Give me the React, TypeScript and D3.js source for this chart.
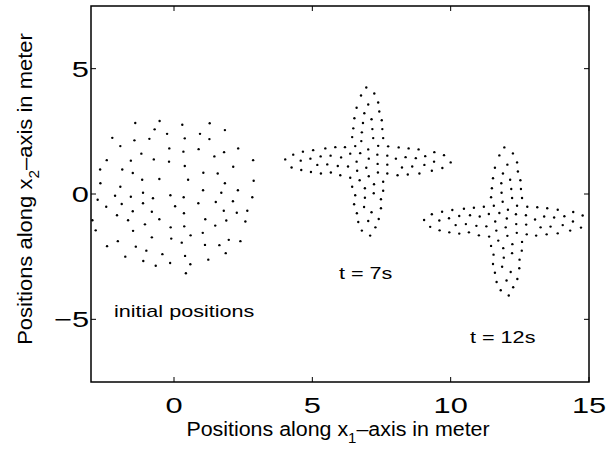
import React, { useEffect, useRef } from "react";
import * as d3 from "d3";

// particle positions, [x1, x2] in meter
const initialPositions: [number, number][] = [
  [-1.40, 2.83], [-0.52, 2.91], [-0.70, 2.58], [-0.25, 2.40], [-2.23, 2.24], [-1.43, 2.14], [-0.89, 2.20],
  [-1.94, 1.91], [-0.17, 1.82], [-1.18, 1.61], [-2.43, 1.35], [-1.56, 1.33], [-0.73, 1.38], [-0.18, 1.29],
  [-2.67, 0.98], [-1.87, 0.98], [-1.49, 0.84], [-1.15, 0.57], [-0.53, 0.60], [-2.66, 0.43], [-1.94, 0.29],
  [-1.12, 0.05], [0.30, 2.76], [1.29, 2.82], [0.94, 2.40], [1.84, 2.55], [0.39, 2.22], [1.28, 2.19],
  [0.34, 1.69], [0.89, 1.79], [1.46, 1.50], [1.81, 1.67], [2.32, 1.82], [2.86, 1.35], [0.39, 1.12],
  [1.06, 0.85], [1.58, 0.82], [2.14, 1.09], [0.51, 0.57], [1.84, 0.43], [2.88, 0.53], [1.05, 0.15],
  [1.71, 0.05], [2.31, 0.15], [-2.76, -0.23], [-2.13, -0.07], [-1.56, -0.11], [-0.76, -0.17], [-0.13, -0.05],
  [-2.45, -0.51], [-1.89, -0.40], [-1.12, -0.37], [0.04, -0.49], [-2.06, -0.85], [-1.49, -0.69], [-0.80, -0.71],
  [-2.95, -1.05], [-1.66, -1.05], [-1.05, -1.21], [-0.53, -1.01], [-0.12, -1.33], [-2.83, -1.45], [-1.48, -1.47],
  [-0.80, -1.73], [-0.10, -1.78], [-2.03, -1.88], [-2.42, -2.08], [-1.38, -2.10], [-1.00, -2.26], [-0.42, -2.40],
  [-1.76, -2.50], [-1.11, -2.67], [-0.66, -2.86], [-0.14, -2.75], [0.35, -0.13], [2.83, -0.13], [0.88, -0.37],
  [1.51, -0.32], [2.13, -0.29], [0.36, -0.77], [1.80, -0.67], [2.27, -0.75], [2.65, -0.67], [1.13, -1.01],
  [1.89, -1.06], [2.58, -1.10], [0.37, -1.29], [1.49, -1.26], [0.60, -1.65], [1.04, -1.55], [0.28, -1.94],
  [1.12, -2.03], [1.64, -2.04], [1.98, -1.83], [2.40, -1.88], [1.87, -2.36], [0.40, -2.47], [1.24, -2.62],
  [0.59, -2.80], [0.43, -3.16],
];

const positionsAt7s: [number, number][] = [
  [6.95, 4.25], [7.24, 4.01], [6.76, 3.93], [7.02, 3.57], [7.38, 3.65], [6.60, 3.44], [6.88, 3.22], [7.42, 3.29],
  [6.52, 3.02], [7.14, 2.98], [6.83, 2.83], [7.51, 2.94], [6.48, 2.62], [7.17, 2.59], [6.79, 2.46], [7.53, 2.59],
  [6.44, 2.27], [7.20, 2.23], [6.77, 2.11], [7.56, 2.23], [6.55, 1.91], [7.02, 1.78], [7.38, 1.92],
  [6.18, 1.87], [5.83, 1.87], [5.47, 1.82], [5.03, 1.75], [4.66, 1.69], [4.31, 1.57], [7.74, 1.90], [8.12, 1.86],
  [8.48, 1.82], [8.84, 1.78], [9.41, 1.67], [9.76, 1.55],
  [4.02, 1.38], [4.93, 1.41], [5.30, 1.50], [5.66, 1.53], [6.04, 1.46], [6.37, 1.61], [6.73, 1.63], [7.04, 1.41],
  [7.35, 1.57], [7.71, 1.53], [8.02, 1.41], [8.37, 1.47], [8.74, 1.43], [9.08, 1.51],
  [4.58, 1.33], [6.60, 1.29], [9.40, 1.29], [10.00, 1.26],
  [4.25, 1.06], [4.60, 0.96], [4.95, 0.88], [5.18, 1.16], [5.31, 0.82], [5.54, 1.18], [5.67, 0.86], [5.92, 1.12],
  [6.01, 0.75], [6.29, 1.10], [6.37, 0.65], [6.62, 0.93], [6.71, 0.55], [6.95, 1.05], [7.04, 0.71], [7.36, 1.20],
  [7.37, 0.86], [7.71, 1.17], [7.71, 0.82], [8.08, 0.75], [8.24, 1.06], [8.45, 0.78], [8.61, 1.10], [8.87, 0.82],
  [9.05, 1.16], [9.32, 0.93], [9.70, 1.04],
  [6.44, 0.29], [6.90, 0.23], [7.23, 0.39], [7.56, 0.49], [6.55, -0.05], [7.22, 0.03], [7.56, 0.13], [6.90, -0.15],
  [7.48, -0.21], [6.51, -0.41], [6.87, -0.52], [7.48, -0.57], [6.61, -0.77], [7.14, -0.73], [7.40, -1.00],
  [6.66, -1.12], [7.02, -1.08], [7.28, -1.33], [6.79, -1.46], [7.09, -1.66],
];

const positionsAt12s: [number, number][] = [
  [11.94, 1.86], [12.25, 1.62], [11.76, 1.54], [12.05, 1.17], [12.40, 1.26], [11.60, 1.05], [11.89, 0.82],
  [12.43, 0.90], [11.53, 0.63], [12.15, 0.57], [12.52, 0.55], [11.83, 0.43], [11.49, 0.23], [12.19, 0.20],
  [12.54, 0.20], [11.84, 0.05], [11.46, -0.13], [12.22, -0.16], [12.58, -0.16], [11.88, -0.31],
  [11.56, -0.47], [11.20, -0.51], [10.84, -0.55], [10.48, -0.59], [10.06, -0.64], [12.40, -0.47], [12.77, -0.51],
  [13.13, -0.53], [13.49, -0.57], [13.87, -0.63], [14.43, -0.72], [12.07, -0.63],
  [9.69, -0.71], [9.32, -0.81], [11.38, -0.80], [11.76, -0.76], [12.36, -0.81], [12.72, -0.85],
  [9.04, -1.04], [9.59, -1.06], [9.94, -0.97], [10.31, -0.88], [10.70, -0.85], [11.05, -0.90], [12.03, -0.98],
  [13.05, -1.02], [13.38, -0.90], [13.74, -0.94], [14.11, -0.89], [14.77, -0.86],
  [9.26, -1.31], [9.60, -1.45], [9.95, -1.53], [10.18, -1.24], [10.31, -1.58], [10.55, -1.20], [10.66, -1.53],
  [10.93, -1.27], [11.02, -1.65], [11.29, -1.29], [11.39, -1.70], [11.61, -1.10], [11.65, -1.46], [11.72, -1.86],
  [11.99, -1.33], [12.05, -1.67], [12.37, -1.20], [12.39, -1.55], [12.73, -1.22], [12.75, -1.61], [13.09, -1.66],
  [13.25, -1.33], [13.47, -1.61], [13.61, -1.30], [13.87, -1.57], [14.05, -1.24], [14.32, -1.46], [14.42, -1.10],
  [14.71, -1.34],
  [11.46, -2.07], [11.90, -2.16], [12.23, -2.00], [12.58, -1.91], [11.55, -2.42], [11.92, -2.54], [12.22, -2.36],
  [12.57, -2.26], [11.53, -2.79], [11.86, -2.90], [12.49, -2.62], [11.60, -3.14], [12.17, -3.11], [12.48, -2.96],
  [11.66, -3.51], [12.02, -3.45], [12.41, -3.39], [11.81, -3.84], [12.26, -3.72], [12.10, -4.05],
];

const xTicks = [0, 5, 10, 15];
const yTicks = [-5, 0, 5];

const annotations: { text: string; x: number; y: number }[] = [
  { text: "initial positions", x: -2.17, y: -4.9 },
  { text: "t = 7s", x: 5.96, y: -3.39 },
  { text: "t = 12s", x: 10.7, y: -5.94 },
];

const W = 615;
const H = 449;
const margin = { top: 6, right: 26, bottom: 67, left: 91 };
const font = "'Liberation Sans', Arial, Helvetica, sans-serif";

export default function App() {
  const ref = useRef<SVGSVGElement>(null);

  useEffect(() => {
    const svg = d3.select(ref.current);
    svg.selectAll("*").remove();

    const iw = W - margin.left - margin.right;
    const ih = H - margin.top - margin.bottom;

    const x = d3.scaleLinear().domain([-3, 15]).range([0, iw]);
    const y = d3.scaleLinear().domain([-7.5, 7.5]).range([ih, 0]);

    svg.append("rect").attr("width", W).attr("height", H).attr("fill", "#fff");

    const g = svg.append("g").attr("transform", `translate(${margin.left},${margin.top})`);

    // inward ticks on all four sides, like matlab's box
    const tl = 5;
    g.selectAll(".xt")
      .data(xTicks)
      .enter()
      .append("path")
      .attr("d", (d) => `M${x(d)},${ih}v${-tl}M${x(d)},0v${tl}`)
      .attr("stroke", "#000")
      .attr("stroke-width", 1);
    g.selectAll(".yt")
      .data(yTicks)
      .enter()
      .append("path")
      .attr("d", (d) => `M0,${y(d)}h${tl}M${iw},${y(d)}h${-tl}`)
      .attr("stroke", "#000")
      .attr("stroke-width", 1);

    g.append("rect")
      .attr("width", iw)
      .attr("height", ih)
      .attr("fill", "none")
      .attr("stroke", "#000")
      .attr("stroke-width", 1.5);

    // the original's glyphs are stretched sideways, so scale x
    g.selectAll(".xl")
      .data(xTicks)
      .enter()
      .append("text")
      .attr("transform", (d) => `translate(${x(d)},${ih + 31}) scale(1.4,1)`)
      .attr("text-anchor", "middle")
      .attr("font-family", font)
      .attr("font-size", 22)
      .text((d) => d);

    g.selectAll(".yl")
      .data(yTicks)
      .enter()
      .append("text")
      .attr("transform", (d) => `translate(-2,${y(d) + 8}) scale(1.4,1)`)
      .attr("text-anchor", "end")
      .attr("font-family", font)
      .attr("font-size", 22)
      .text((d) => (d < 0 ? "\u2212" + Math.abs(d) : d));

    const groups = [initialPositions, positionsAt7s, positionsAt12s];
    groups.forEach((pts, i) => {
      g.selectAll(".p" + i)
        .data(pts)
        .enter()
        .append("circle")
        .attr("cx", (d) => x(d[0]))
        .attr("cy", (d) => y(d[1]))
        .attr("r", 1.2)
        .attr("fill", "#000");
    });

    g.selectAll(".ann")
      .data(annotations)
      .enter()
      .append("text")
      .attr("transform", (d) => `translate(${x(d.x)},${y(d.y)}) scale(1.27,1)`)
      .attr("font-family", font)
      .attr("font-size", 17)
      .text((d) => d.text);

    // axis titles with subscripts
    const xt = svg
      .append("text")
      .attr("transform", `translate(338,436) scale(1.07,1)`)
      .attr("text-anchor", "middle")
      .attr("font-family", font)
      .attr("font-size", 20);
    xt.append("tspan").text("Positions along x");
    xt.append("tspan").attr("dy", 7).attr("font-size", 14).text("1");
    xt.append("tspan").attr("dy", -7).text("\u2013axis in meter");

    const yt = svg
      .append("text")
      .attr("transform", `translate(32,189) rotate(-90) scale(1.1,1)`)
      .attr("text-anchor", "middle")
      .attr("font-family", font)
      .attr("font-size", 20);
    yt.append("tspan").text("Positions along x");
    yt.append("tspan").attr("dy", 7).attr("font-size", 14).text("2");
    yt.append("tspan").attr("dy", -7).text("\u2013axis in meter");
  }, []);

  return (
    <svg
      ref={ref}
      width={W}
      height={H}
      style={{ position: "absolute", left: 0, top: 0, display: "block" }}
    />
  );
}
